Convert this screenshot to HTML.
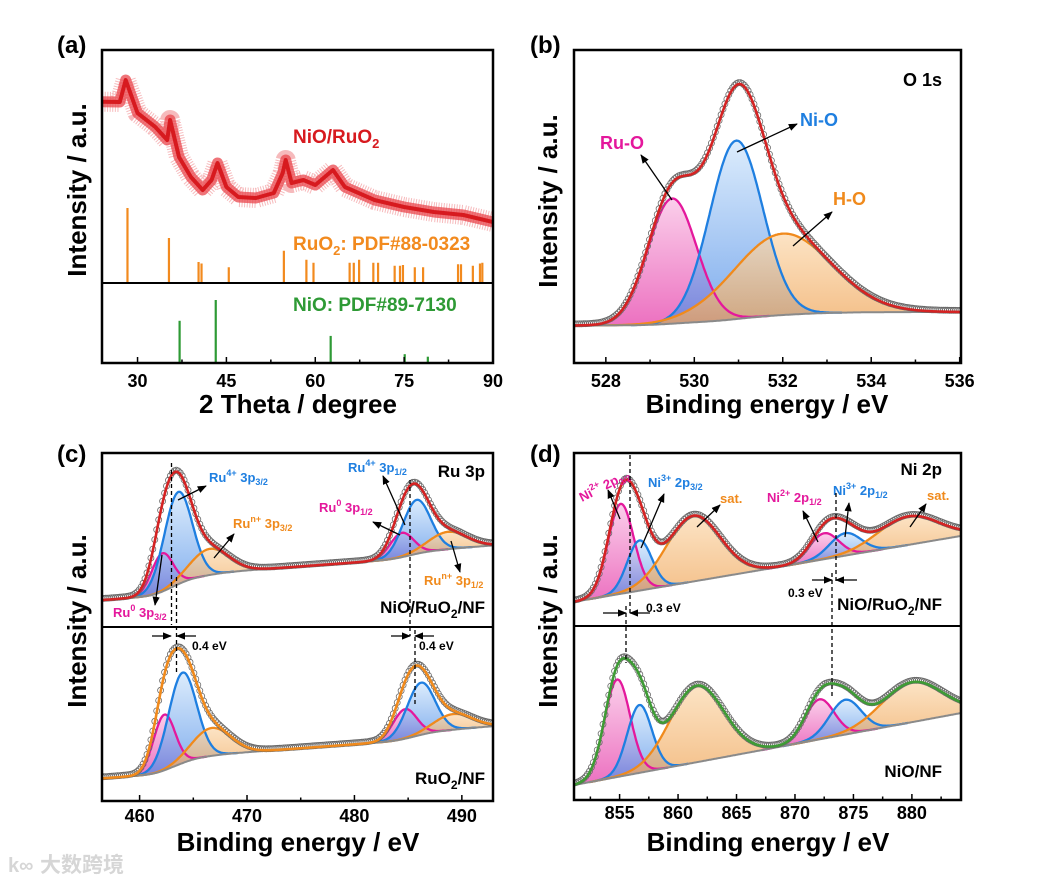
<!DOCTYPE html>
<html><head><meta charset="utf-8"><style>
html,body{margin:0;padding:0;background:#fff}
svg{display:block;font-family:"Liberation Sans",Arial,sans-serif;font-weight:bold}
</style></head><body>
<svg id="fig" xmlns="http://www.w3.org/2000/svg" width="1051" height="883" viewBox="0 0 1051 883">
<defs>
<linearGradient id="gPink" x1="0" y1="0" x2="0" y2="1"><stop offset="0" stop-color="#f9bde3"/><stop offset="1" stop-color="#e53aa8"/></linearGradient>
<linearGradient id="gBlue" x1="0" y1="0" x2="0" y2="1"><stop offset="0" stop-color="#cfe5fb"/><stop offset="1" stop-color="#4b8be6"/></linearGradient>
<linearGradient id="gOrange" x1="0" y1="0" x2="0" y2="1"><stop offset="0" stop-color="#fbd9ae"/><stop offset="1" stop-color="#efa456"/></linearGradient>
<marker id="arr" viewBox="0 0 10 10" refX="9" refY="5" markerWidth="7" markerHeight="7" orient="auto-start-reverse"><path d="M0,1 L10,5 L0,9 z" fill="#000"/></marker>
<clipPath id="cpA"><rect x="102" y="50" width="391" height="313"/></clipPath>
<clipPath id="cpB"><rect x="574" y="50" width="387" height="313"/></clipPath>
<clipPath id="cpC1"><rect x="102" y="453" width="391" height="174"/></clipPath>
<clipPath id="cpC2"><rect x="102" y="627" width="391" height="174"/></clipPath>
<clipPath id="cpD1"><rect x="574" y="453" width="387" height="173"/></clipPath>
<clipPath id="cpD2"><rect x="574" y="626" width="387" height="174"/></clipPath>
</defs>
<g id="layer"></g>
</svg>
<script>
// ---------- Panel (a) XRD data ----------
const xrdTheta = [24,27,28,30,33,35,35.5,37,39,41,42.5,43.5,45,47,50,53,54.5,55,56,58,60,63,65,70,75,80,85,90];
const xrdCounts = [1813,1810,2030,1700,1560,1430,1630,1260,1060,930,1030,1200,960,860,850,900,1100,1230,1000,1030,980,1130,960,830,760,710,680,610];
const ruo2Theta = [28.3,35.3,40.3,40.8,45.4,54.7,58.5,59.7,65.8,66.5,67.4,69.8,70.6,73.4,74.3,74.8,76.8,78.2,84.1,84.6,86.6,87.8,88.2];
const ruo2Rel = [100,60,28,26,21,43,31,27,27,27,31,27,27,23,23,24,21,21,25,25,23,26,27];
const nioTheta = [37.1,43.2,62.6,75.1,79.0];
const nioRel = [67,100,43,14,10];
const xrdTicks = [30,45,60,75,90];

// ---------- Panel (b) O 1s ----------
const o1sCenters = [529.5,530.95,532.0];
const o1sHeights = [40,57,26];
const o1sSigmas = [0.55,0.6,1.1];
const o1sSteps = [1,1.5,1.8];
const o1sTicks = [528,530,532,534,536];

// ---------- Panel (c) Ru 3p ----------
const ruTopCenters = [462.1,463.6,466.5,484.4,485.8,488.7];
const ruTopHeights = [22,53,15,14,31,10];
const ruBotCenters = [462.3,464.0,466.7,484.7,486.2,489.2];
const ruBotHeights = [32,52,16,17,30,9];
const ruSigmas = [1.0,1.3,1.8,1.1,1.3,1.8];
const ruTopSteps = [3,6,2,1.5,2,0.5];
const ruBotSteps = [3,5,1,1.5,2.5,0.6];
const ruTicks = [460,470,480,490];

// ---------- Panel (d) Ni 2p ----------
const niTopCenters = [855.1,856.7,861.3,872.5,874.3,879.7];
const niTopHeights = [52,29,38,15,13,16.5];
const niBotCenters = [854.8,856.7,861.6,872.1,874.3,880.0];
const niBotHeights = [56,39,44,23,20,23];
const niSigmas = [1.1,1.05,2.3,1.25,1.35,2.6];
const niSteps = [0,0,0,0,0,0];
const niTicks = [855,860,865,870,875,880];

const NS = "http://www.w3.org/2000/svg";
const layer = document.getElementById('layer');
function mk(tag, attrs, parent){const e=document.createElementNS(NS,tag);for(const k in attrs)e.setAttribute(k,attrs[k]);(parent||layer).appendChild(e);return e;}
function txt(x,y,s,size,color,anchor,parent){const t=mk('text',{x:x,y:y,'font-size':size,fill:color||'#000','text-anchor':anchor||'start'},parent);t.innerHTML=s;return t;}

function axes(name,x0,y0,x1,y1,xmin,xmax,ticks,minorStep,labY){
  const g=mk('g',{});
  
  
  const sx=v=>x0+(v-xmin)/(xmax-xmin)*(x1-x0);
  const first=Math.ceil(xmin/minorStep)*minorStep;
  for(let v=first; v<=xmax+1e-9; v+=minorStep){
    const major=ticks.some(t=>Math.abs(t-v)<1e-6);
    mk('line',{x1:sx(v),x2:sx(v),y1:y1,y2:y1-(major?6:3.5),stroke:'#000','stroke-width':1.5},g);
  }
  ticks.forEach(t=>{const l=txt(sx(t),labY,String(t),18,'#000','middle',g);
    
    });
  return sx;
}
function frame(name,x0,y0,x1,y1){const r=mk('rect',{x:x0,y:y0,width:x1-x0,height:y1-y0,fill:'none',stroke:'#000','stroke-width':2.5});
  
  }
function arrow(x1,y1,x2,y2,name){const l=mk('line',{x1:x1,y1:y1,x2:x2,y2:y2,stroke:'#000','stroke-width':1.3,'marker-end':'url(#arr)'});
  
  }
function dash(x,y1,y2){const l=mk('line',{x1:x,x2:x,y1:y1,y2:y2,stroke:'#000','stroke-width':1.3,'stroke-dasharray':'4,3'});
  
  }

function xps(name,clip,x0,x1,xmin,xmax,yb,yt,b0,slope,centers,heights,sigmas,steps,fitColor){
  const g=mk('g',{'clip-path':'url(#'+clip+')'});
  
  
  const sx=v=>x0+(v-xmin)/(xmax-xmin)*(x1-x0);
  const sy=v=>yb-v/100*(yb-yt);
  const N=400, xs=[];
  for(let i=0;i<=N;i++) xs.push(xmin+(xmax-xmin)*i/N);
  const base=x=>{let b=b0+slope*(x-xmin);centers.forEach((c,i)=>{b+=steps[i]/(1+Math.exp(-(x-c)/(0.6*sigmas[i])));});return b;};
  const peak=(x,i)=>heights[i]*Math.exp(-Math.pow(x-centers[i],2)/(2*sigmas[i]*sigmas[i]));
  const fills=['url(#gPink)','url(#gBlue)','url(#gOrange)'];
  const lines=['#e4189c','#1f7fe0','#f08a1c'];
  const cnames=['component-peak-pink','component-peak-blue','component-peak-orange'];
  centers.forEach((c,i)=>{
    const lo=c-4*sigmas[i], hi=c+4*sigmas[i];
    const sub=xs.filter(x=>x>=lo&&x<=hi);
    let d='M'+sx(sub[0]).toFixed(1)+','+sy(base(sub[0])).toFixed(1);
    sub.forEach(x=>{d+=' L'+sx(x).toFixed(1)+','+sy(base(x)+peak(x,i)).toFixed(1);});
    for(let k=sub.length-1;k>=0;k--) d+=' L'+sx(sub[k]).toFixed(1)+','+sy(base(sub[k])).toFixed(1);
    const p=mk('path',{d:d+'Z',fill:fills[i%3],'fill-opacity':0.72,stroke:'none'},g);
    
    
  });
  centers.forEach((c,i)=>{
    const lo=c-4*sigmas[i], hi=c+4*sigmas[i];
    const sub=xs.filter(x=>x>=lo&&x<=hi);
    const pts=sub.map(x=>sx(x).toFixed(1)+','+sy(base(x)+peak(x,i)).toFixed(1)).join(' ');
    const p=mk('polyline',{points:pts,fill:'none',stroke:lines[i%3],'stroke-width':2.3},g);
    
    
  });
  const bl=mk('polyline',{points:xs.map(x=>sx(x).toFixed(1)+','+sy(base(x)).toFixed(1)).join(' '),fill:'none',stroke:'#8a8a8a','stroke-width':2},g);
  
  
  const tot=x=>{let s=base(x);centers.forEach((c,i)=>s+=peak(x,i));return s;};
  const dg=mk('g',{fill:'none',stroke:'#6a6a6a','stroke-width':0.8},g);
  
  
  for(let i=0;i<=N;i+=2){const x=xs[i];mk('circle',{cx:sx(x).toFixed(1),cy:(sy(tot(x))-1.5).toFixed(1),r:3},dg);}
  const fl=mk('polyline',{points:xs.map(x=>sx(x).toFixed(1)+','+sy(tot(x)).toFixed(1)).join(' '),fill:'none',stroke:fitColor,'stroke-width':2.6},g);
  
  
}

// ===== Panel (a) =====
(function(){
  const x0=102,x1=493,xmin=24,xmax=90;
  const sx=v=>x0+(v-xmin)/(xmax-xmin)*(x1-x0);
  const ya=c=>283-c/10;
  const g=mk('g',{'clip-path':'url(#cpA)'});
  
  
  const pts=xrdTheta.map((t,i)=>sx(t).toFixed(1)+','+ya(xrdCounts[i]).toFixed(1)).join(' ');
  const tex=mk('polyline',{points:pts,fill:'none',stroke:'#e53a40','stroke-width':20,'stroke-opacity':0.35,'stroke-dasharray':'1 1.6','stroke-linejoin':'round'},g);
  
  
  const band=mk('polyline',{points:pts,fill:'none',stroke:'#e9454c','stroke-width':11,'stroke-opacity':0.75,'stroke-linejoin':'round'},g);
  
  
  const ln=mk('polyline',{points:pts,fill:'none',stroke:'#d71a1f','stroke-width':4,'stroke-linejoin':'round'},g);
  
  
  ruo2Theta.forEach((t,i)=>{const l=mk('line',{x1:sx(t),x2:sx(t),y1:283,y2:283-ruo2Rel[i]/100*75,stroke:'#f28a1e','stroke-width':2.2},g);
    
    });
  nioTheta.forEach((t,i)=>{const l=mk('line',{x1:sx(t),x2:sx(t),y1:363,y2:363-nioRel[i]/100*63,stroke:'#2e9a35','stroke-width':2.2},g);
    
    });
  const dv=mk('line',{x1:102,x2:493,y1:283,y2:283,stroke:'#000','stroke-width':2});
  
  
  frame('panel-a-frame',102,50,493,363);
  axes('panel-a',102,50,493,363,xmin,xmax,xrdTicks,7.5,387);
  let t=txt(57,53,'(a)',24);
  t=txt(298,413,'2 Theta / degree',26,'#000','middle');
  t=txt(0,0,'Intensity / a.u.',26,'#000','middle');t.setAttribute('transform','translate(86,190) rotate(-90)');
  t=txt(293,143,'NiO/RuO<tspan font-size="13" dy="5">2</tspan>',19,'#d71a1f');
  t=txt(293,250,'RuO<tspan font-size="13" dy="5">2</tspan><tspan dy="-5">: PDF#88-0323</tspan>',19,'#f28a1e');
  t=txt(293,311,'NiO: PDF#89-7130',19,'#2e9a35');
})();

// ===== Panel (b) =====
(function(){
  xps('o1s-spectrum','cpB',574,961,527.28,536.03,363,50,12,0,o1sCenters,o1sHeights,o1sSigmas,o1sSteps,'#d42323');
  frame('panel-b-frame',574,50,961,363);
  axes('panel-b',574,50,961,363,527.28,536.03,o1sTicks,1,387);
  let t=txt(530,53,'(b)',24);
  t=txt(767,413,'Binding energy / eV',26,'#000','middle');
  t=txt(0,0,'Intensity / a.u.',26,'#000','middle');t.setAttribute('transform','translate(557,201) rotate(-90)');
  t=txt(942,86,'O 1s',18,'#000','end');
  t=txt(600,149,'Ru-O',18,'#e4189c');
  t=txt(800,126,'Ni-O',18,'#1f7fe0');
  t=txt(833,205,'H-O',18,'#f08a1c');
  arrow(672,200,641,155,'arrow-ru-o');arrow(737,152,797,124,'arrow-ni-o');arrow(793,246,832,212,'arrow-h-o');
})();

// ===== Panel (c) =====
(function(){
  const xmin=456.5,xmax=492.9;
  xps('ru3p-nio-ruo2-spectrum','cpC1',102,493,xmin,xmax,627,453,15.5,0.45,ruTopCenters,ruTopHeights,ruSigmas,ruTopSteps,'#d42323');
  xps('ru3p-ruo2-spectrum','cpC2',102,493,xmin,xmax,801,627,13,0.45,ruBotCenters,ruBotHeights,ruSigmas,ruBotSteps,'#f08a1c');
  const dv=mk('line',{x1:102,x2:493,y1:627,y2:627,stroke:'#000','stroke-width':2});
  
  
  frame('panel-c-frame',102,453,493,801);
  axes('panel-c',102,453,493,801,xmin,xmax,ruTicks,5,822);
  let t=txt(57,462,'(c)',24);
  t=txt(298,851,'Binding energy / eV',26,'#000','middle');
  t=txt(0,0,'Intensity / a.u.',26,'#000','middle');t.setAttribute('transform','translate(86,621) rotate(-90)');
  t=txt(485,477,'Ru 3p',17,'#000','end');
  t=txt(485,613,'NiO/RuO<tspan font-size="12" dy="5">2</tspan><tspan dy="-5">/NF</tspan>',17,'#000','end');
  t=txt(485,784,'RuO<tspan font-size="12" dy="5">2</tspan><tspan dy="-5">/NF</tspan>',17,'#000','end');
  const sub=(a,b)=>a+'<tspan font-size="9" dy="-6">'+b+'</tspan><tspan dy="6"> 3p</tspan>';
  const lab=(x,y,a,b,c,col,n)=>{const e=txt(x,y,sub(a,b)+'<tspan font-size="9" dy="3">'+c+'</tspan>',13,col);};
  lab(209,482,'Ru','4+','3/2','#1f7fe0','label-ru4-3p32');
  lab(233,528,'Ru','n+','3/2','#f08a1c','label-run-3p32');
  lab(113,617,'Ru','0','3/2','#e4189c','label-ru0-3p32');
  lab(348,472,'Ru','4+','1/2','#1f7fe0','label-ru4-3p12');
  lab(319,512,'Ru','0','1/2','#e4189c','label-ru0-3p12');
  lab(424,585,'Ru','n+','1/2','#f08a1c','label-run-3p12');
  arrow(178,500,206,486);arrow(214,558,234,534);arrow(162,555,155,605);
  arrow(405,525,383,476);arrow(400,535,373,522);arrow(451,541,460,572);
  dash(171.5,463,625);dash(176.5,577,672);dash(410,480,636);dash(415,630,707);
  arrow(152,636,171,636);arrow(196,636,177,636);arrow(391,636,410,636);arrow(434,636,415,636);
  t=txt(192,650,'0.4 eV',12);
  t=txt(419,650,'0.4 eV',12);
})();

// ===== Panel (d) =====
(function(){
  const xmin=851.1,xmax=884.2;
  xps('ni2p-nio-ruo2-spectrum','cpD1',574,961,xmin,xmax,626,453,14,1.15,niTopCenters,niTopHeights,niSigmas,niSteps,'#d42323');
  xps('ni2p-nio-spectrum','cpD2',574,961,xmin,xmax,800,626,8.6,1.25,niBotCenters,niBotHeights,niSigmas,niSteps,'#3e9b35');
  const dv=mk('line',{x1:574,x2:961,y1:626,y2:626,stroke:'#000','stroke-width':2});
  
  
  frame('panel-d-frame',574,453,961,800);
  axes('panel-d',574,453,961,800,xmin,xmax,niTicks,2.5,819);
  let t=txt(530,462,'(d)',24);
  t=txt(768,851,'Binding energy / eV',26,'#000','middle');
  t=txt(0,0,'Intensity / a.u.',26,'#000','middle');t.setAttribute('transform','translate(557,621) rotate(-90)');
  t=txt(942,475,'Ni 2p',17,'#000','end');
  t=txt(942,610,'NiO/RuO<tspan font-size="12" dy="5">2</tspan><tspan dy="-5">/NF</tspan>',17,'#000','end');
  t=txt(942,777,'NiO/NF',17,'#000','end');
  const lab=(x,y,a,b,c,col,n,rot)=>{const e=txt(x,y,a+'<tspan font-size="9" dy="-6">'+b+'</tspan><tspan dy="6"> 2p</tspan><tspan font-size="9" dy="3">'+c+'</tspan>',13,col);
    if(rot)e.setAttribute('transform','rotate('+rot+' '+x+' '+y+')');};
  lab(582,502,'Ni','2+','3/2','#e4189c','label-ni2-2p32',-27);
  lab(648,487,'Ni','3+','3/2','#1f7fe0','label-ni3-2p32');
  lab(767,502,'Ni','2+','1/2','#e4189c','label-ni2-2p12');
  lab(833,495,'Ni','3+','1/2','#1f7fe0','label-ni3-2p12');
  t=txt(720,503,'sat.',13,'#f08a1c');
  t=txt(927,500,'sat.',13,'#f08a1c');
  arrow(620,519,608,490);arrow(641,548,664,494);arrow(697,527,720,505);
  arrow(818,542,803,511);arrow(845,537,849,503);arrow(910,527,926,504);
  dash(630,455,615);dash(626,606,663);dash(836,493,583);dash(832,573,697);
  arrow(603,613,626,613);arrow(650,613,630,613);arrow(812,580,832,580);arrow(857,580,836,580);
  t=txt(646,612,'0.3 eV',12);
  t=txt(788,597,'0.3 eV',12);
})();

// watermark
(function(){
  const t=txt(40,872,'大数跨境',21,'#d6d6d6');
  t.setAttribute('font-family','"Liberation Sans","Noto Sans CJK SC",sans-serif');
  
  
  const c=mk('text',{x:8,y:872,'font-size':20,fill:'#d6d6d6'});c.textContent='k∞';
  
  
})();
</script>
</body></html>
